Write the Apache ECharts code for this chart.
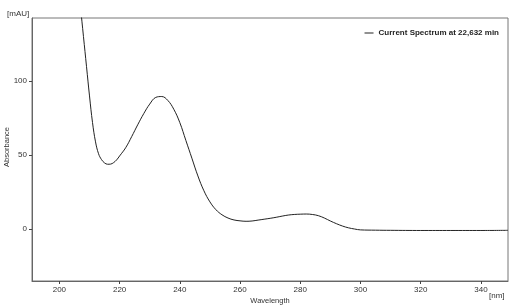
<!DOCTYPE html>
<html><head><meta charset="utf-8">
<script src="https://cdn.jsdelivr.net/npm/echarts@6/dist/echarts.min.js"></script>
<style>html,body{margin:0;padding:0;background:#fff}#c{width:512px;height:305px}</style>
</head><body><div id="c"></div>
<script>
const wavelengths = [206,207,208,209,210,211,212,213,214,215,216,217,218,219,220,222,224,226,228,230,232,234,236,238,240,242,244,246,248,250,252,254,256,258,260,262,264,266,268,270,272,274,276,278,280,282,284,286,288,290,292,294,296,298,300,305,310,320,330,340,349];
const absorbance = [170,150,130,110,90,72,59,51,47,44.8,43.9,44,45,46.8,49.5,55,62.5,70.5,78,84.5,89,89.6,87,81,72,60,48,36,26,18.5,13.2,9.8,7.6,6.3,5.7,5.4,5.6,6.2,6.8,7.4,8.1,8.9,9.6,10,10.2,10.3,10,9.2,7.6,5.6,3.8,2.2,1,0.2,-0.4,-0.6,-0.7,-0.8,-0.8,-0.8,-0.7];
const xTicks = [200,220,240,260,280,300,320,340];
const yTicks = [0,50,100];
const seriesName = 'Current Spectrum at 22,632 min';

const font = 'Liberation Sans';
const chart = echarts.init(document.getElementById('c'), null, {renderer:'canvas'});
chart.setOption({
  animation:false,
  backgroundColor:'#fff',
  grid:{left:32,right:4,top:18,bottom:24,show:true,borderColor:'#777',borderWidth:1,containLabel:false,outerBoundsMode:'none'},
  legend:{show:true,top:24,right:8,icon:'rect',itemWidth:9,itemHeight:1,itemGap:4,
    textStyle:{fontFamily:font,fontSize:8,fontWeight:'bold',color:'#222'},
    data:[seriesName]},
  xAxis:{type:'value',min:190.9,max:349,
    axisLine:{show:true,onZero:false,lineStyle:{color:'#666'}},
    axisTick:{show:true,length:3,lineStyle:{color:'#444'},customValues:xTicks},
    axisLabel:{fontFamily:font,fontSize:8,color:'#333',margin:5,customValues:xTicks},
    splitLine:{show:false}},
  yAxis:{type:'value',min:-34.9,max:142.6,
    axisLine:{show:true,onZero:false,lineStyle:{color:'#666'}},
    axisTick:{show:true,length:3,lineStyle:{color:'#444'},customValues:yTicks},
    axisLabel:{fontFamily:font,fontSize:8,color:'#333',margin:5,customValues:yTicks},
    splitLine:{show:false}},
  graphic:[
    {type:'text',left:7,top:10,style:{text:'[mAU]',fontFamily:font,fontSize:8,fill:'#333'}},
    {type:'text',left:489,top:292,style:{text:'[nm]',fontFamily:font,fontSize:8,fill:'#333'}},
    {type:'text',x:7,y:147,rotation:Math.PI/2,style:{text:'Absorbance',fontFamily:font,fontSize:7.5,fill:'#333',align:'center',verticalAlign:'middle'}},
    {type:'text',x:270,y:301,style:{text:'Wavelength',fontFamily:font,fontSize:7.5,fill:'#333',align:'center',verticalAlign:'middle'}}
  ],
  series:[{name:seriesName,type:'line',smooth:0.4,showSymbol:false,symbol:'none',clip:true,
    lineStyle:{color:'#222',width:1},itemStyle:{color:'#222'},
    data:wavelengths.map((w,i)=>[w,absorbance[i]])}]
});
</script></body></html>
